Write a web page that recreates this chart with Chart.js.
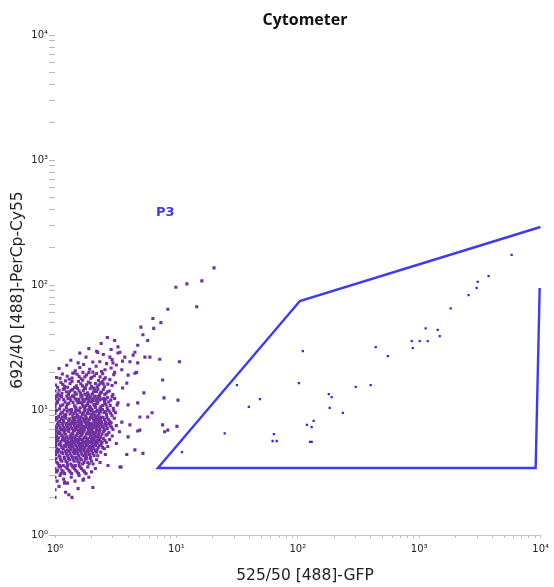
<!DOCTYPE html>
<html>
<head>
<meta charset="utf-8">
<script src="https://cdn.jsdelivr.net/npm/chart.js@4.4.0/dist/chart.umd.min.js"></script>
<style>
  html, body { margin: 0; padding: 0; background: #fff; }
  #wrap { width: 554px; height: 587px; }
</style>
</head>
<body>
<div id="wrap"><canvas id="myChart" width="554" height="587"></canvas></div>
<script>
// axis decades and minor tick multipliers
const decades = [1, 10, 100, 1000, 10000];
const minorSteps = [2, 3, 4, 5, 6, 7, 8, 9];
const superDigits = ["⁰", "¹", "²", "³", "⁴"];

// events outside the gate: [GFP, PerCp-Cy55]
const outsideEvents = [
  [20.4, 137], [16.2, 108], [12.2, 102], [9.9, 96], [8.5, 64], [14.7, 67], [6.4, 54], [7.45, 50],
  [5.1, 46], [6.5, 45], [5.3, 40], [5.8, 36], [4.8, 33], [3.3, 32], [4.55, 29], [3.43, 29],
  [4.4, 27.5], [2.83, 26.5], [3.76, 26.5], [5.5, 26.5], [6.05, 26.5], [7.3, 25.5], [10.6, 24.3],
  [2.34, 24.3], [3.0, 23.8], [4.14, 24.3], [4.8, 23.8], [2.58, 21], [3.1, 20], [3.55, 21], [4.7, 20],
  [1.7, 20], [1.4, 19.7], [7.7, 17.4], [7.9, 12.5], [10.3, 12], [5.4, 13.7], [6.3, 9.5], [7.7, 7.6],
  [8.5, 6.9], [10.1, 7.4], [5.3, 4.5], [4.55, 4.8], [4.0, 6.1], [3.43, 3.5], [2.73, 3.6], [2.05, 2.4],
  [1.38, 2.0], [1.0, 2.0], [1.2, 2.6], [1.7, 2.75], [3.9, 4.4], [3.5, 3.5], [3.2, 5.4], [5.0, 6.9],
  [8.0, 6.7], [4.55, 19.7], [4.0, 19], [4.8, 11.4], [3.3, 11.4], [4.0, 11], [5.0, 8.8], [5.8, 8.8],
  [4.14, 7.6], [4.8, 6.8], [3.55, 8.0], [3.4, 6.7], [3.9, 16.4], [3.6, 15],
  [1.9, 31], [2.4, 34], [2.7, 38], [2.2, 29.5], [3.1, 36], [1.6, 28.5], [2.9, 30.5],
  [1.35, 25], [1.8, 26.5], [2.05, 24.2], [2.5, 27.8], [2.95, 25.3], [3.3, 28.6], [1.55, 23.8], [2.25, 28.9], [3.6, 24.6],
  [1.08, 21.5], [1.25, 22.8], [1.47, 20.6], [1.72, 23.1], [1.93, 21.2], [2.18, 22.4], [2.42, 20.3], [2.66, 23.5],
  [2.9, 21.7], [3.2, 22.9], [1.6, 21.9], [2.05, 20.1],
  [1.03, 18.2], [1.15, 19.4], [1.31, 17.6], [1.44, 19.8], [1.58, 18.5], [1.69, 17.3], [1.82, 19.1], [1.97, 17.9],
  [2.11, 18.8], [2.28, 17.2], [2.47, 19.5], [2.6, 18.1], [2.83, 17.5], [3.05, 19.2], [1.22, 17.1], [1.9, 19.9], [2.35, 18.4],
  [1.01, 15.8], [1.12, 16.6], [1.27, 15.2], [1.38, 16.9], [1.5, 15.6], [1.63, 16.2], [1.75, 15.1], [1.88, 16.7],
  [2.0, 15.4], [2.15, 16.3], [2.3, 15.9], [2.45, 16.8], [2.55, 15.3], [2.72, 16.1], [2.95, 15.7], [3.15, 16.5],
  [1.2, 15.5], [1.56, 16.9], [2.08, 15.0], [2.38, 16.4],
  [1.0, 14.2], [1.06, 13.5], [1.17, 14.7], [1.29, 13.3], [1.36, 14.4], [1.46, 13.8], [1.53, 14.9], [1.66, 13.1],
  [1.71, 14.3], [1.85, 13.7], [1.95, 14.8], [2.03, 13.4], [2.2, 14.1], [2.33, 13.2], [2.5, 14.6], [2.64, 13.6],
  [2.8, 14.2], [3.0, 13.3], [1.1, 13.0], [1.42, 13.0], [1.78, 14.9], [2.12, 14.5], [2.42, 13.9], [1.24, 14.0],
  [1.0, 12.4], [1.04, 11.8], [1.13, 12.8], [1.21, 11.6], [1.28, 12.3], [1.35, 11.9], [1.43, 12.7], [1.51, 12.0],
  [1.6, 11.5], [1.67, 12.5], [1.74, 11.7], [1.83, 12.9], [1.91, 12.1], [2.0, 11.6], [2.1, 12.6], [2.18, 11.9],
  [2.27, 12.8], [2.4, 12.2], [2.56, 11.7], [2.7, 12.6], [2.88, 12.0], [3.1, 12.4], [1.08, 12.2], [1.39, 12.9],
  [1.56, 12.2], [1.96, 12.7], [2.22, 12.3],
  [1.0, 10.6], [1.02, 11.2], [1.09, 10.2], [1.16, 11.0], [1.24, 10.5], [1.3, 11.3], [1.37, 10.1], [1.45, 10.8],
  [1.54, 11.4], [1.61, 10.4], [1.69, 11.0], [1.77, 10.3], [1.86, 11.2], [1.93, 10.7], [2.02, 10.1], [2.09, 11.1],
  [2.16, 10.5], [2.25, 11.4], [2.34, 10.2], [2.46, 10.9], [2.58, 11.3], [2.69, 10.4], [2.85, 10.9], [3.02, 10.3],
  [3.25, 11.0], [1.19, 10.0], [1.49, 10.2], [1.81, 10.9], [2.12, 10.8], [1.65, 11.4],
  [1.0, 9.4], [1.03, 9.9], [1.07, 8.9], [1.14, 9.6], [1.2, 9.1], [1.26, 9.8], [1.33, 9.3], [1.4, 8.9],
  [1.47, 9.7], [1.52, 9.2], [1.58, 9.9], [1.64, 8.8], [1.72, 9.5], [1.79, 9.0], [1.87, 9.8], [1.94, 9.3],
  [2.01, 8.9], [2.07, 9.6], [2.14, 9.1], [2.23, 9.9], [2.31, 9.4], [2.42, 8.8], [2.53, 9.5], [2.66, 9.2],
  [2.79, 9.8], [2.95, 9.0], [3.15, 9.5], [1.11, 9.3], [1.36, 9.6], [1.68, 9.2], [1.98, 9.9], [2.37, 9.7], [1.55, 8.9],
  [1.0, 8.3], [1.02, 8.7], [1.06, 7.9], [1.12, 8.5], [1.18, 8.0], [1.23, 8.6], [1.29, 8.2], [1.35, 7.8],
  [1.41, 8.4], [1.48, 8.7], [1.54, 8.1], [1.6, 8.5], [1.66, 7.9], [1.73, 8.3], [1.8, 8.7], [1.86, 8.0],
  [1.92, 8.4], [1.99, 7.8], [2.05, 8.6], [2.12, 8.1], [2.2, 8.5], [2.28, 7.9], [2.37, 8.3], [2.49, 8.7],
  [2.61, 8.0], [2.75, 8.4], [2.9, 7.9], [3.08, 8.6], [1.15, 8.8], [1.44, 8.0], [1.77, 8.0], [2.16, 8.8], [1.25, 7.8],
  [1.0, 7.4], [1.01, 7.0], [1.05, 7.7], [1.1, 7.2], [1.16, 7.5], [1.21, 6.9], [1.27, 7.3], [1.32, 7.7],
  [1.38, 7.1], [1.44, 7.5], [1.5, 7.0], [1.56, 7.6], [1.62, 7.2], [1.68, 6.9], [1.75, 7.4], [1.81, 7.8],
  [1.88, 7.1], [1.95, 7.5], [2.02, 7.0], [2.09, 7.6], [2.17, 7.2], [2.26, 7.7], [2.35, 7.0], [2.45, 7.4],
  [2.57, 7.7], [2.7, 7.1], [2.84, 7.5], [3.0, 7.0], [3.2, 7.5], [1.13, 7.0], [1.47, 7.8], [1.71, 7.2],
  [1.99, 7.3], [2.21, 7.5], [1.3, 7.0],
  [1.0, 6.5], [1.03, 6.2], [1.08, 6.8], [1.13, 6.3], [1.19, 6.6], [1.25, 6.1], [1.3, 6.7], [1.36, 6.4],
  [1.42, 6.8], [1.48, 6.2], [1.53, 6.5], [1.59, 6.9], [1.65, 6.3], [1.71, 6.7], [1.78, 6.1], [1.84, 6.5],
  [1.9, 6.8], [1.97, 6.2], [2.04, 6.6], [2.11, 6.3], [2.19, 6.8], [2.28, 6.4], [2.38, 6.1], [2.5, 6.7],
  [2.63, 6.3], [2.78, 6.6], [2.96, 6.2], [1.16, 6.9], [1.39, 6.1], [1.62, 6.6], [1.93, 6.4], [2.15, 6.1], [1.06, 6.5],
  [1.0, 5.8], [1.02, 5.5], [1.07, 6.0], [1.12, 5.6], [1.17, 5.9], [1.23, 5.4], [1.28, 5.8], [1.34, 6.0],
  [1.4, 5.5], [1.46, 5.9], [1.52, 5.6], [1.58, 6.0], [1.64, 5.4], [1.7, 5.8], [1.76, 5.5], [1.83, 5.9],
  [1.89, 5.6], [1.96, 6.0], [2.03, 5.5], [2.1, 5.8], [2.18, 5.4], [2.27, 5.9], [2.38, 5.6], [2.5, 5.9],
  [2.65, 5.5], [2.82, 5.8], [1.2, 5.7], [1.55, 5.7], [1.86, 5.4], [2.22, 5.7], [1.37, 5.7],
  [1.0, 5.1], [1.04, 4.9], [1.09, 5.3], [1.14, 5.0], [1.2, 5.2], [1.26, 4.8], [1.31, 5.1], [1.37, 5.3],
  [1.43, 4.9], [1.49, 5.2], [1.55, 4.8], [1.61, 5.1], [1.67, 5.3], [1.73, 4.9], [1.8, 5.2], [1.87, 4.8],
  [1.94, 5.1], [2.01, 5.3], [2.09, 4.9], [2.17, 5.2], [2.27, 5.0], [2.4, 5.3], [2.55, 4.9], [2.72, 5.1],
  [1.34, 5.0], [1.64, 5.0], [1.97, 5.0],
  [1.0, 4.5], [1.03, 4.7], [1.08, 4.3], [1.13, 4.6], [1.19, 4.2], [1.24, 4.5], [1.3, 4.7], [1.36, 4.3],
  [1.42, 4.6], [1.48, 4.2], [1.54, 4.5], [1.6, 4.8], [1.67, 4.4], [1.74, 4.7], [1.81, 4.3], [1.88, 4.6],
  [1.96, 4.2], [2.05, 4.5], [2.14, 4.7], [2.25, 4.3], [2.38, 4.6], [2.6, 4.4], [1.45, 4.8], [1.78, 4.5],
  [1.0, 3.9], [1.02, 4.1], [1.06, 3.7], [1.11, 4.0], [1.17, 3.6], [1.23, 3.9], [1.29, 4.1], [1.35, 3.7],
  [1.41, 4.0], [1.47, 3.6], [1.54, 3.9], [1.61, 4.1], [1.69, 3.7], [1.77, 4.0], [1.86, 3.8], [1.95, 4.1],
  [2.06, 3.7], [2.2, 4.0], [2.35, 3.8], [1.27, 3.6], [1.58, 3.8],
  [1.0, 3.4], [1.03, 3.2], [1.08, 3.5], [1.14, 3.3], [1.2, 3.1], [1.26, 3.4], [1.33, 3.2], [1.4, 3.5],
  [1.48, 3.3], [1.56, 3.1], [1.65, 3.4], [1.75, 3.2], [1.86, 3.5], [2.0, 3.2], [2.15, 3.4], [1.12, 3.1],
  [1.0, 2.9], [1.04, 2.7], [1.1, 3.0], [1.18, 2.8], [1.27, 2.6], [1.36, 2.9], [1.46, 2.7], [1.58, 3.0],
  [1.72, 2.8], [1.9, 2.9], [1.2, 2.65],
  [1.0, 2.3], [1.08, 2.45], [1.22, 2.2], [1.55, 2.35], [1.3, 2.1],
  // second pass over the dense core
  [1.05, 11.5], [1.11, 10.8], [1.18, 12.1], [1.26, 11.1], [1.33, 12.5], [1.41, 11.5], [1.48, 10.5], [1.57, 11.9],
  [1.63, 12.9], [1.72, 10.6], [1.79, 12.2], [1.88, 11.6], [1.97, 10.4], [2.06, 11.9], [2.14, 12.9], [2.2, 11.2],
  [2.31, 12.0], [2.38, 10.6], [2.52, 12.4], [2.63, 11.0], [2.77, 11.6], [2.95, 12.8], [1.01, 10.0], [1.15, 9.5],
  [1.23, 9.2], [1.3, 10.0], [1.43, 9.4], [1.5, 9.9], [1.61, 9.6], [1.75, 9.9], [1.84, 9.4], [1.9, 10.1],
  [2.04, 9.3], [2.18, 9.7], [2.27, 9.0], [2.46, 10.1], [2.6, 9.7], [2.72, 10.0], [2.88, 9.4], [3.05, 9.9],
  [1.04, 8.5], [1.09, 8.1], [1.17, 8.3], [1.22, 8.9], [1.32, 8.5], [1.38, 8.1], [1.46, 8.4], [1.52, 8.8],
  [1.57, 8.3], [1.63, 8.1], [1.7, 8.6], [1.76, 8.3], [1.83, 8.5], [1.9, 7.9], [1.96, 8.7], [2.08, 8.3],
  [2.15, 7.9], [2.24, 8.3], [2.32, 8.6], [2.42, 8.0], [2.55, 8.4], [2.68, 8.7], [2.82, 8.1], [1.03, 7.2],
  [1.08, 7.5], [1.14, 7.8], [1.19, 7.2], [1.24, 7.6], [1.35, 7.4], [1.41, 7.8], [1.47, 7.2], [1.53, 7.4],
  [1.6, 7.8], [1.66, 7.5], [1.73, 7.0], [1.79, 7.3], [1.85, 7.6], [1.92, 7.3], [2.0, 7.7], [2.06, 7.2],
  [2.13, 7.4], [2.22, 7.0], [2.31, 7.4], [2.4, 7.7], [2.52, 7.2], [2.64, 7.5], [2.77, 7.8], [2.92, 7.3],
  [1.02, 6.8], [1.1, 6.5], [1.15, 6.2], [1.22, 6.4], [1.28, 6.9], [1.33, 6.2], [1.4, 6.5], [1.45, 6.9],
  [1.51, 6.3], [1.56, 6.7], [1.62, 6.2], [1.68, 6.5], [1.74, 6.9], [1.81, 6.4], [1.87, 6.7], [1.94, 6.5],
  [2.0, 6.9], [2.08, 6.4], [2.16, 6.6], [2.24, 6.2], [2.33, 6.7], [2.44, 6.4], [2.56, 6.9], [2.7, 6.4],
  [1.01, 6.0], [1.05, 5.7], [1.1, 5.4], [1.15, 5.8], [1.21, 6.0], [1.26, 5.6], [1.32, 5.5], [1.38, 5.9],
  [1.44, 5.6], [1.5, 5.8], [1.56, 5.5], [1.62, 5.8], [1.68, 5.6], [1.74, 6.0], [1.8, 5.6], [1.86, 5.9],
  [1.93, 5.5], [2.0, 5.7], [2.07, 6.0], [2.14, 5.6], [2.23, 5.5], [2.33, 5.8], [2.44, 5.5], [2.58, 5.7],
  [1.02, 5.2], [1.07, 4.8], [1.12, 5.2], [1.17, 4.9], [1.23, 5.1], [1.29, 5.3], [1.35, 4.8], [1.4, 5.1],
  [1.46, 5.3], [1.52, 5.0], [1.58, 5.2], [1.64, 4.8], [1.7, 5.2], [1.77, 5.0], [1.84, 5.3], [1.9, 5.0],
  [1.98, 4.8], [2.05, 5.1], [2.13, 5.3], [2.22, 4.8], [2.33, 5.2], [2.47, 5.0],
  [1.01, 4.4], [1.06, 4.6], [1.1, 4.2], [1.16, 4.5], [1.21, 4.7], [1.27, 4.3], [1.33, 4.5], [1.39, 4.2],
  [1.45, 4.5], [1.51, 4.7], [1.57, 4.3], [1.64, 4.6], [1.71, 4.3], [1.78, 4.2], [1.85, 4.7], [1.92, 4.4],
  [2.0, 4.7], [2.1, 4.3], [2.2, 4.6], [1.04, 3.8], [1.09, 3.6], [1.14, 3.9], [1.2, 4.1], [1.26, 3.8],
  [1.32, 4.0], [1.38, 3.6], [1.44, 3.9], [1.51, 4.1], [1.58, 3.6], [1.65, 4.0], [1.73, 3.8], [1.82, 4.1],
  [1.91, 3.7], [2.0, 3.9], [1.05, 3.3], [1.11, 3.5], [1.17, 3.2], [1.23, 3.5], [1.3, 3.3], [1.37, 3.1],
  [1.44, 3.4], [1.52, 3.2], [1.61, 3.5], [1.7, 3.3], [1.8, 3.1],
  [1.02, 13.0], [1.08, 14.4], [1.14, 13.6], [1.2, 14.8], [1.32, 14.0], [1.4, 14.6], [1.5, 13.4], [1.58, 14.2],
  [1.62, 13.6], [1.76, 13.4], [1.9, 13.2], [2.08, 14.0], [2.26, 14.7], [2.37, 13.7], [2.57, 13.3], [2.72, 14.0],
  [1.05, 15.2], [1.16, 16.0], [1.33, 16.3], [1.45, 15.1], [1.68, 15.6], [1.82, 15.9], [1.95, 16.4], [2.22, 15.3],
  [2.5, 16.2], [1.1, 17.9], [1.26, 18.6], [1.38, 18.0], [1.52, 19.3], [1.64, 17.8], [1.76, 18.4], [2.02, 18.3],
  [2.2, 19.6], [2.53, 17.6], [1.04, 12.8], [1.25, 12.9], [1.47, 12.3], [1.7, 12.1], [1.86, 12.4], [2.03, 12.2],
  [2.33, 12.7], [2.62, 12.2]
];

// events inside P3: [GFP, PerCp-Cy55]
const p3Events = [
  [5770, 174], [3730, 118], [3030, 106], [2970, 95], [2550, 83], [1815, 65], [1130, 45], [1420, 43.7],
  [1475, 39], [867, 35.6], [1010, 35.6], [1175, 35.6], [885, 31.3], [438, 31.9], [551, 27], [110, 29.6],
  [102, 16.4], [398, 15.8], [300, 15.3], [180, 13.4], [190, 12.7], [183, 10.4], [235, 9.5], [48.7, 12.2],
  [39.5, 10.6], [31.5, 15.8], [25, 6.5], [135, 8.2], [119, 7.6], [130, 7.3], [63.5, 6.4], [62, 5.65],
  [67, 5.65], [126, 5.55], [130, 5.55], [11.1, 4.6]
];

// P3 gate outline (open on the upper right side)
const gateGFP = [9820, 9100, 7.04, 104, 9950];
const gatePerCp = [94.6, 3.44, 3.44, 74.5, 291];

const toPoints = arr => arr.map(([x, y]) => ({ x, y }));
const gatePoints = gateGFP.map((x, i) => ({ x, y: gatePerCp[i] }));

function logTicks() {
  const ticks = [];
  decades.forEach((d, i) => {
    ticks.push({ value: d, major: true });
    if (i < decades.length - 1) {
      minorSteps.forEach(m => ticks.push({ value: d * m, major: false }));
    }
  });
  return ticks;
}

function powerLabel(value) {
  const e = Math.round(Math.log10(value));
  if (Math.abs(Math.pow(10, e) - value) < 1e-6) return "10" + superDigits[e];
  return "";
}

const textPlugin = {
  id: "texts",
  afterDraw(chart) {
    const ctx = chart.ctx;
    ctx.save();
    ctx.textAlign = "center";
    ctx.textBaseline = "middle";
    ctx.fillStyle = "#111";
    ctx.font = 'bold 16px "Open Sans"';
    ctx.fillText("Cytometer", 305, 20);

    ctx.font = '15.5px "DejaVu Sans"';
    ctx.fillStyle = "#222";
    ctx.fillText("525/50 [488]-GFP", 305, 576);

    ctx.save();
    ctx.translate(18, 290);
    ctx.rotate(-Math.PI / 2);
    ctx.fillText("692/40 [488]-PerCp-Cy55", 0, 0);
    ctx.restore();

    ctx.font = 'bold 13px "DejaVu Sans"';
    ctx.fillStyle = "#3b3bf0";
    ctx.textAlign = "left";
    ctx.fillText("P3", 156, 213);
    ctx.restore();
  }
};

const ctx = document.getElementById("myChart").getContext("2d");
new Chart(ctx, {
  type: "scatter",
  data: {
    datasets: [
      {
        label: "All events",
        data: toPoints(outsideEvents),
        backgroundColor: "#7030a0",
        pointStyle: "rect",
        pointRadius: 2.2,
        pointBorderWidth: 0,
      },
      {
        label: "P3 events",
        data: toPoints(p3Events),
        backgroundColor: "#2a2ae8",
        pointStyle: "rect",
        pointRadius: 1.6,
        pointBorderWidth: 0,
      },
      {
        label: "P3",
        type: "line",
        data: gatePoints,
        borderColor: "#3b3bf0",
        borderWidth: 2.4,
        pointRadius: 0,
        fill: false,
        tension: 0,
        clip: false,
      },
    ],
  },
  options: {
    responsive: false,
    animation: false,
    layout: { padding: { left: 0, top: 35, right: 13, bottom: 0 } },
    plugins: {
      legend: { display: false },
      tooltip: { enabled: false },
    },
    scales: {
      x: {
        type: "logarithmic",
        min: 1,
        max: 10000,
        afterFit: (scale) => { scale.height = 52; },
        afterBuildTicks: (scale) => { scale.ticks = logTicks(); },
        border: { display: true, color: "#c4c4c4", width: 1 },
        grid: { drawOnChartArea: false, drawTicks: true, tickLength: 3, color: "#b8b8b8" },
        ticks: {
          autoSkip: false,
          maxRotation: 0,
          padding: 5,
          color: "#222",
          font: { family: "DejaVu Sans", size: 10 },
          callback: (value) => powerLabel(value),
        },
      },
      y: {
        type: "logarithmic",
        min: 1,
        max: 10000,
        afterFit: (scale) => { scale.width = 55; },
        afterBuildTicks: (scale) => { scale.ticks = logTicks(); },
        border: { display: false },
        grid: { drawOnChartArea: false, drawTicks: true, tickLength: 6, color: "#b8b8b8" },
        ticks: {
          autoSkip: false,
          padding: 1,
          color: "#222",
          font: { family: "DejaVu Sans", size: 10 },
          callback: (value) => powerLabel(value),
        },
      },
    },
  },
  plugins: [textPlugin],
});
</script>
</body>
</html>
